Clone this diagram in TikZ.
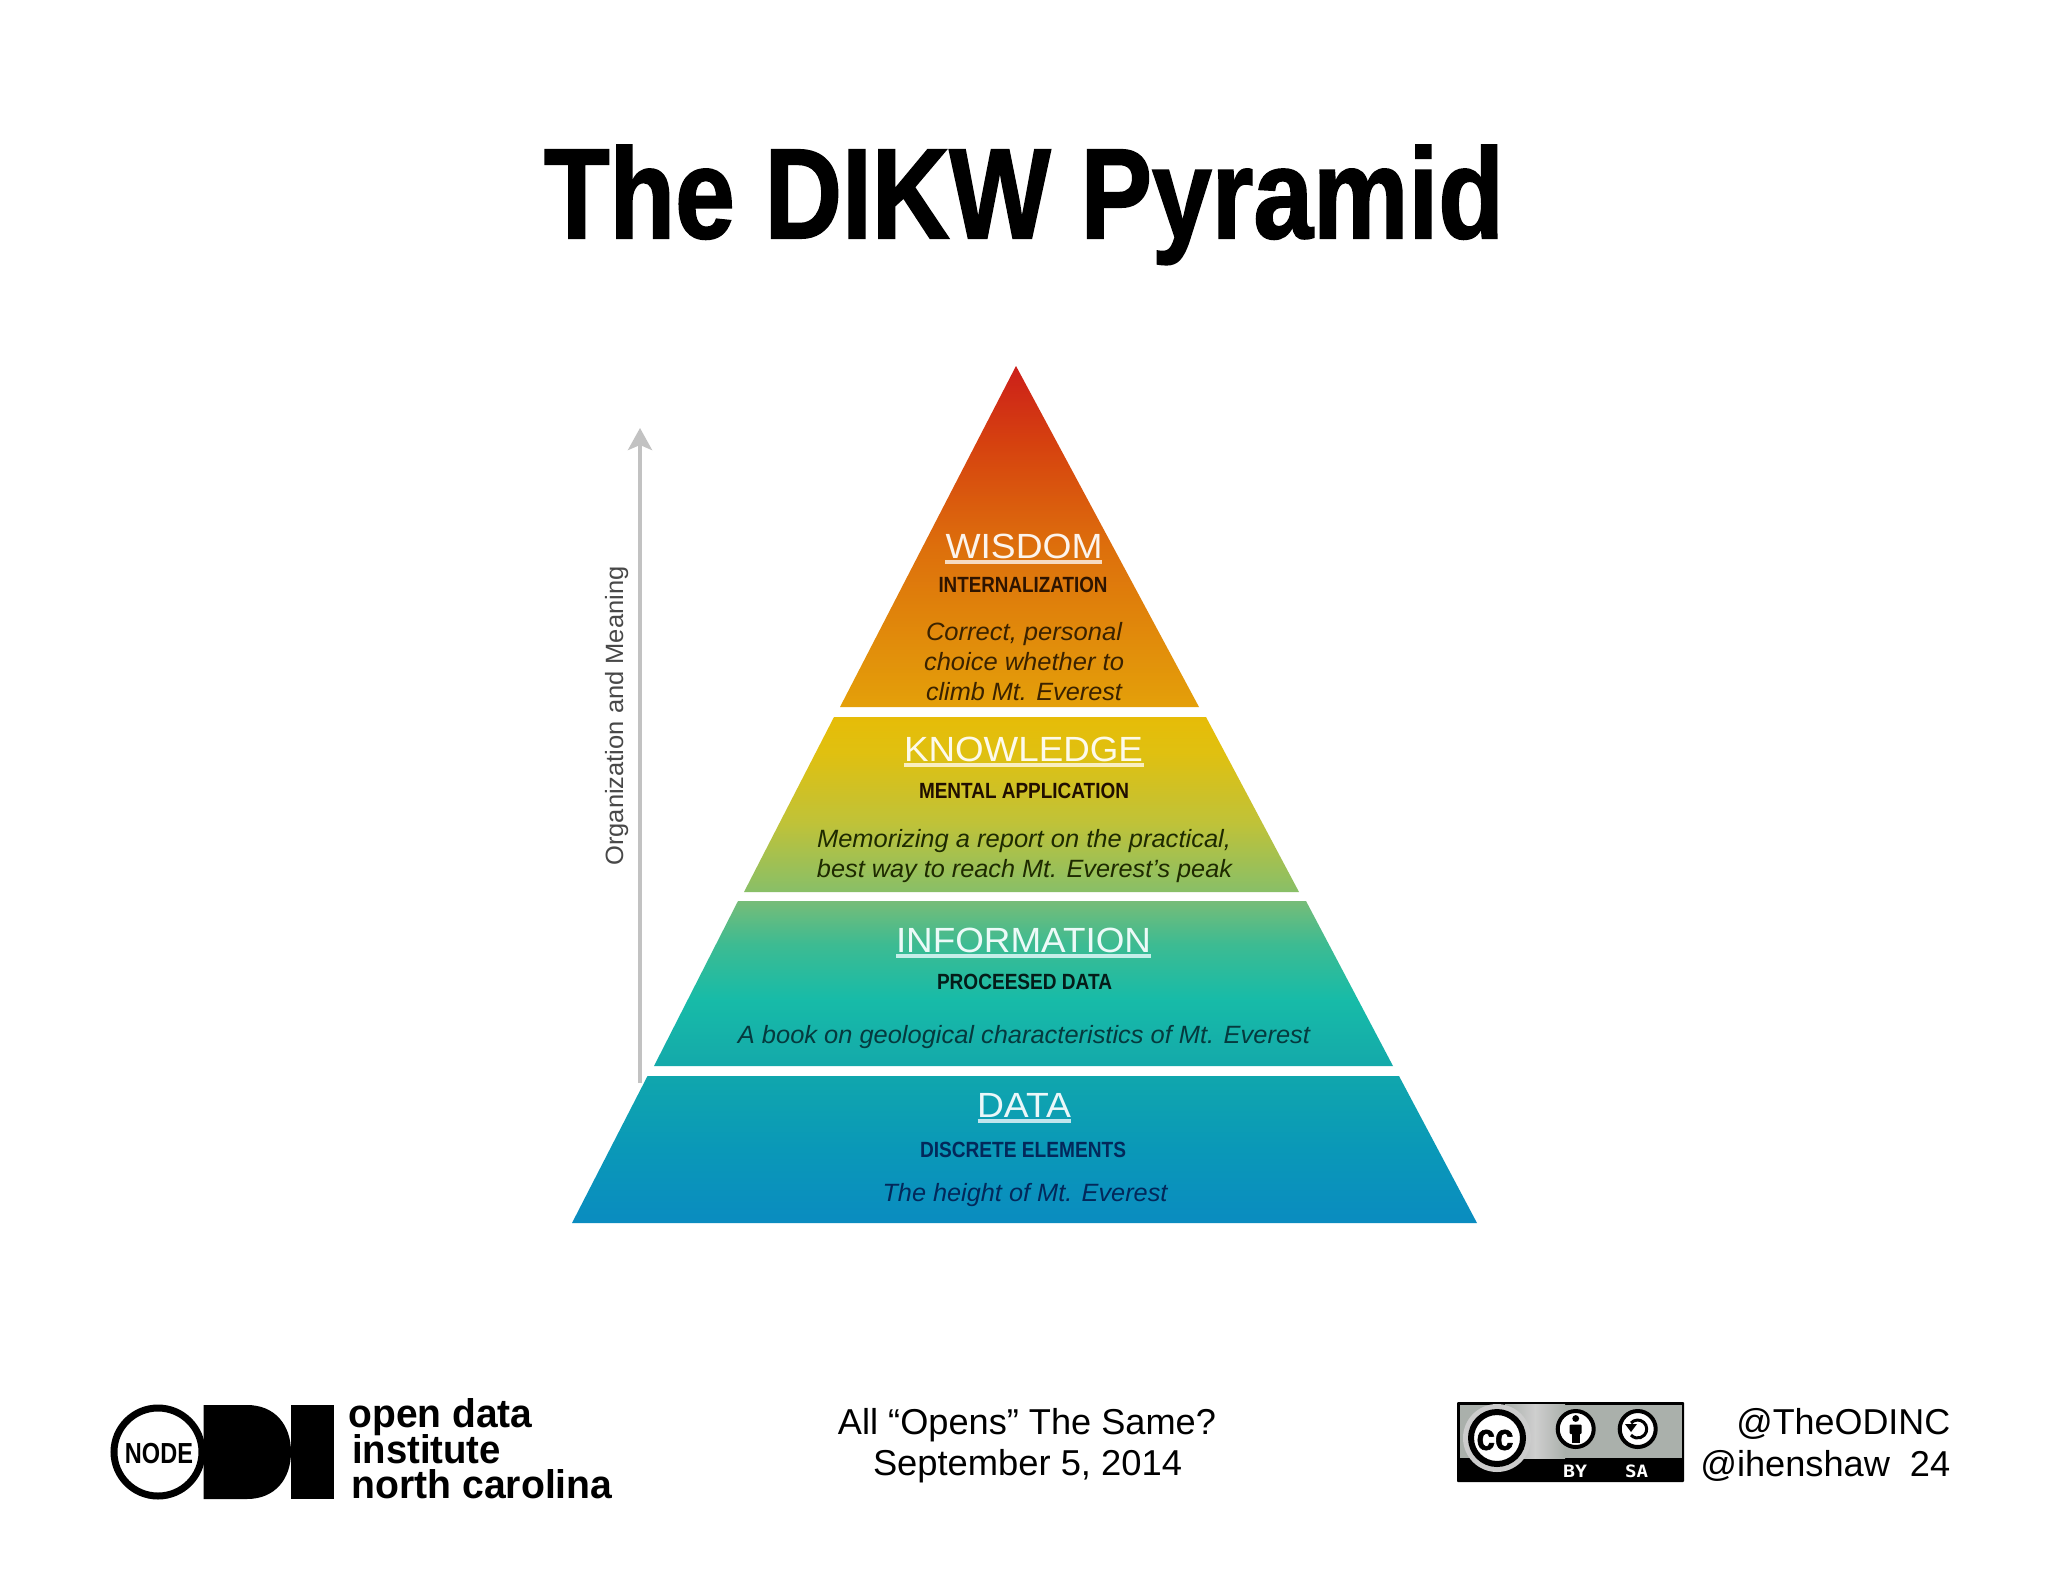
\documentclass[tikz,border=0pt]{standalone}
\usepackage{fontspec}
\usepackage{graphicx}
\setmainfont{Liberation Sans}
\newfontfamily\ttlfont[BoldFeatures={FakeBold=1.6}]{Liberation Sans}
\newfontfamily\pixfont{DejaVu Sans Mono}
\usetikzlibrary{arrows.meta}
\newcommand{\fitt}[3]{\resizebox{#1pt}{\height}{\fontsize{#2}{#2}\selectfont #3}}
\definecolor{wA}{HTML}{CC1F1A}\definecolor{wB}{HTML}{D6420F}\definecolor{wC}{HTML}{DD6F0C}\definecolor{wD}{HTML}{E4A00A}
\definecolor{kA}{HTML}{E6BC08}\definecolor{kB}{HTML}{E0C010}\definecolor{kC}{HTML}{C0C238}\definecolor{kD}{HTML}{88BF68}
\definecolor{iA}{HTML}{76BC78}\definecolor{iB}{HTML}{3DBB92}\definecolor{iC}{HTML}{17BBA8}\definecolor{iD}{HTML}{14A9AA}
\definecolor{dA}{HTML}{10A6AD}\definecolor{dB}{HTML}{0A98B8}\definecolor{dC}{HTML}{0A8CC0}
\pgfdeclareverticalshading{wisShade}{100bp}{color(0bp)=(wD); color(25bp)=(wD); color(48.5bp)=(wC); color(63.5bp)=(wB); color(75bp)=(wA); color(100bp)=(wA)}
\pgfdeclareverticalshading{knoShade}{100bp}{color(0bp)=(kD); color(25bp)=(kD); color(45bp)=(kC); color(65bp)=(kB); color(75bp)=(kA); color(100bp)=(kA)}
\pgfdeclareverticalshading{infShade}{100bp}{color(0bp)=(iD); color(25bp)=(iD); color(45bp)=(iC); color(62bp)=(iB); color(75bp)=(iA); color(100bp)=(iA)}
\pgfdeclareverticalshading{datShade}{100bp}{color(0bp)=(dC); color(25bp)=(dC); color(50bp)=(dB); color(75bp)=(dA); color(100bp)=(dA)}
\definecolor{arrowgray}{HTML}{C2C2C2}
\definecolor{labgray}{HTML}{484848}
\definecolor{wTxt}{HTML}{3A2200}\definecolor{wBold}{HTML}{2E1400}\definecolor{kTxt}{HTML}{1E2A00}\definecolor{iTxt}{HTML}{053A3E}\definecolor{dTxt}{HTML}{03285A}
\definecolor{badgegray}{HTML}{AAB0AB}
\tikzset{
  lab/.style={anchor=base,inner sep=0pt,outer sep=0pt},
  ulin/.style={line width=3.2pt},
}
\begin{document}
\begin{tikzpicture}[x=1pt,y=-1pt]
\useasboundingbox (0,0) rectangle (2048,1582);
\fill[white] (0,0) rectangle (2048,1582);
% title
\node[lab] (title) at (1024,238) {\fitt{960}{128}{\ttlfont\bfseries The DIKW Pyramid}};
% pyramid layers
\shade[shading=wisShade] (1016,366) -- (1199,707) -- (840,707) -- cycle;
\shade[shading=knoShade] (834,717) -- (1206,717) -- (1299,892) -- (744,892) -- cycle;
\shade[shading=infShade] (738,901) -- (1306,901) -- (1393,1066) -- (654,1066) -- cycle;
\shade[shading=datShade] (647.5,1076) -- (1399,1076) -- (1477,1223) -- (572,1223) -- cycle;
% arrow
\coordinate (arrowS) at (640,1083);
\coordinate (arrowE) at (640,428);
\draw[arrowgray,line width=4pt,-{Stealth[length=22pt,width=24pt,inset=5pt]}] (arrowS) -- (arrowE);
\node[lab,rotate=90,text=labgray] (axis) at (623,716) {\fitt{299}{25}{Organization and Meaning}};
% wisdom
\node[lab,text=white!92!wC] (wis) at (1024,558) {\fitt{157}{35}{WISDOM}};
\draw[ulin,color=wC!25!white] (945,562) -- (1102,562);
\node[lab,text=wBold] (wisS) at (1023,592) {\fitt{169}{22}{\bfseries INTERNALIZATION}};
\node[lab,text=wTxt] (wis1) at (1024,640) {\fitt{196}{25}{\itshape Correct, personal}};
\node[lab,text=wTxt] (wis2) at (1024,670) {\fitt{200}{25}{\itshape choice whether to}};
\node[lab,text=wTxt] (wis3) at (1024,700) {\fitt{196}{25}{\itshape climb Mt. Everest}};
% knowledge
\node[lab,text=white!92!kA] (kno) at (1023.5,761) {\fitt{239}{35}{KNOWLEDGE}};
\draw[ulin,color=kA!25!white] (904,765) -- (1144,765);
\node[lab,text=wBold!70!black] (knoS) at (1024,798) {\fitt{210}{22}{\bfseries MENTAL APPLICATION}};
\node[lab,text=kTxt] (kno1) at (1024,847) {\fitt{414}{25}{\itshape Memorizing a report on the practical,}};
\node[lab,text=kTxt] (kno2) at (1024.5,877) {\fitt{415}{25}{\itshape best way to reach Mt. Everest's peak}};
% information
\node[lab,text=white!92!iC] (inf) at (1023.5,952) {\fitt{255}{35}{INFORMATION}};
\draw[ulin,color=iC!25!white] (896,956) -- (1151,956);
\node[lab,text=black!85!iC] (infS) at (1024.5,989) {\fitt{175}{22}{\bfseries PROCEESED DATA}};
\node[lab,text=iTxt] (inf1) at (1024,1043) {\fitt{572}{25}{\itshape A book on geological characteristics of Mt. Everest}};
% data
\node[lab,text=white!92!dB] (dat) at (1024,1117) {\fitt{94}{35}{DATA}};
\draw[ulin,color=dB!25!white] (977.5,1121) -- (1071,1121);
\node[lab,text=dTxt] (datS) at (1023,1157) {\fitt{206}{22}{\bfseries DISCRETE ELEMENTS}};
\node[lab,text=dTxt] (dat1) at (1025,1201) {\fitt{285}{25}{\itshape The height of Mt. Everest}};
% logo
\draw[line width=7pt,fill=white] (158,1452) circle (44);
\node[lab] (nodetxt) at (159,1463) {\fitt{68}{29}{\bfseries NODE}};
\fill[black] (203.6,1405) -- (247,1405) .. controls (275,1405) and (291,1425) .. (291,1452) .. controls (291,1479) and (275,1499) .. (247,1499) -- (203.6,1499) -- cycle;
\fill[black] (291,1405) rectangle (334,1499);
\node[lab] (odi1) at (440.5,1427) {\fitt{184}{40}{\bfseries open data}};
\node[lab] (odi2) at (426.5,1463) {\fitt{149}{40}{\bfseries institute}};
\node[lab] (odi3) at (482,1498) {\fitt{261}{40}{\bfseries north carolina}};
% centre text
\node[lab] (ctr1) at (1027,1434) {\fitt{378}{36}{All “Opens” The Same?}};
\node[lab] (ctr2) at (1027.5,1475) {\fitt{309}{36}{September 5, 2014}};
% badge
\fill[black,rounded corners=1pt] (1457,1402) rectangle (1684,1482);
\fill[badgegray] (1459.5,1404.5) rectangle (1681.5,1458);
\shade[left color=badgegray,right color=badgegray,middle color=black!19] (1505,1404.5) rectangle (1565,1458);
\begin{scope}
\clip (1459.5,1404.5) rectangle (1681.5,1479.5);
\fill[black!20] (1497,1438) circle (34);
\end{scope}
\draw[line width=6pt,fill=white] (1497,1438) circle (26);
\node[inner sep=0pt] (cc) at (1495,1440) {\resizebox{37pt}{20pt}{\ttlfont\bfseries cc}};
\draw[line width=4pt,fill=white] (1575.7,1429) circle (18);
\fill[black] (1575.7,1418.5) circle (3.4);
\fill[black,rounded corners=1pt] (1569.7,1424.5) rectangle (1581.7,1434);
\fill[black] (1571.5,1434) rectangle (1579.9,1443);
\draw[line width=4pt,fill=white] (1637.7,1429) circle (18);
\draw[line width=3pt] (1631,1423) arc[start angle=222,end angle=498,radius=9];
\fill[black] (1625,1424) -- (1637,1424) -- (1631,1432) -- cycle;
\node[lab,text=white] (by) at (1575,1477) {\pixfont\fitt{24}{17}{\bfseries BY}};
\node[lab,text=white] (sa) at (1636.5,1477) {\pixfont\fitt{23}{17}{\bfseries SA}};
% handles
\node[anchor=base east,inner sep=0pt] (h1) at (1950.5,1434) {\fitt{214}{36}{@TheODINC}};
\node[anchor=base east,inner sep=0pt] (h2) at (1950.5,1476) {\fitt{250}{36}{@ihenshaw\ \ 24}};
\end{tikzpicture}
\end{document}
